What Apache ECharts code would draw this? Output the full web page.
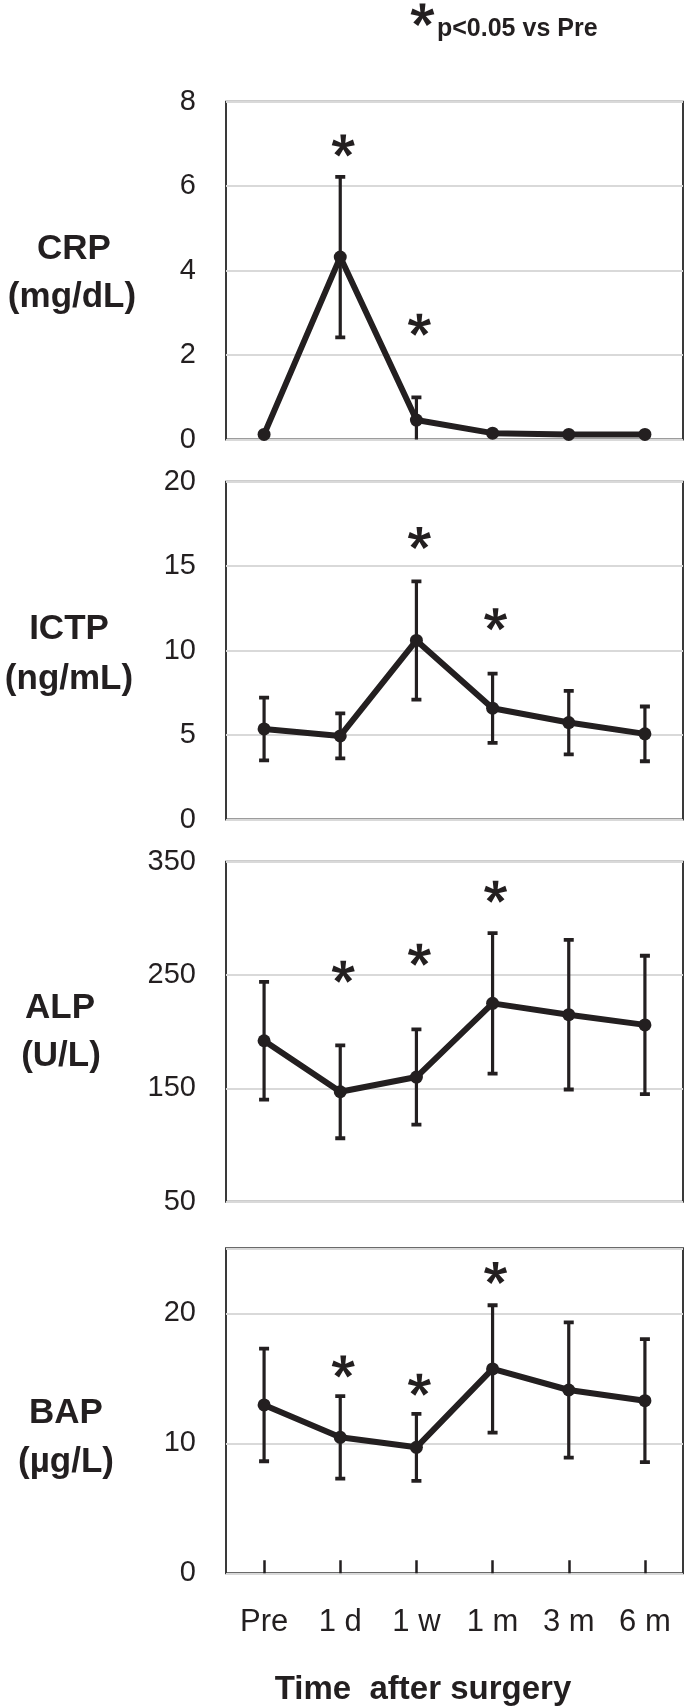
<!DOCTYPE html>
<html>
<head>
<meta charset="utf-8">
<script src="https://cdn.jsdelivr.net/npm/echarts@6/dist/echarts.min.js"></script>
<style>
html,body{margin:0;padding:0;background:#fff;}
#chart{width:685px;height:1708px;}
</style>
</head>
<body>
<div id="chart"></div>
<script>
// ---------- data ----------
const categories = ['Pre', '1 d', '1 w', '1 m', '3 m', '6 m'];

const crpMean = [0.12, 4.32, 0.46, 0.15, 0.12, 0.12];
const crpSD   = [null, 1.9, 0.54, null, null, null];
const crpStars = [['1 d', 6.96], ['1 w', 2.72]];

const ictpMean = [5.36, 4.95, 10.6, 6.59, 5.74, 5.07];
const ictpSD   = [1.86, 1.33, 3.5, 2.05, 1.88, 1.62];
const ictpStars = [['1 w', 16.66], ['1 m', 11.86]];

const alpMean = [192, 147, 160, 225, 215, 206];
const alpSD   = [52, 41, 42, 62, 66, 61];
const alpStars = [['1 d', 253], ['1 w', 268], ['1 m', 323.5]];

const bapMean = [12.95, 10.46, 9.69, 15.72, 14.1, 13.28];
const bapSD   = [4.33, 3.17, 2.58, 4.9, 5.2, 4.73];
const bapStars = [['1 d', 15.9], ['1 w', 14.5], ['1 m', 23.1]];

const crpTicks = [0, 2, 4, 6, 8];
const ictpTicks = [0, 5, 10, 15, 20];
const alpTicks = [50, 150, 250, 350];
const bapTicks = [0, 10, 20];

// ---------- style ----------
const INK = '#231f20';
const FONT = 'Liberation Sans, Arial, Helvetica, sans-serif';

function starArms(cx, cy, R, w0, w1) {
  const arms = [];
  for (let k = 0; k < 5; k++) {
    const a = (-90 + 72 * k) * Math.PI / 180;
    const dx = Math.cos(a), dy = Math.sin(a);
    const px = -dy, py = dx;
    const back = R * 0.15;
    const bx = cx - dx * back, by = cy - dy * back;
    const ex = cx + dx * R, ey = cy + dy * R;
    arms.push([
      [bx - px * w0, by - py * w0],
      [ex - px * w1, ey - py * w1],
      [ex + px * w1, ey + py * w1],
      [bx + px * w0, by + py * w0]
    ]);
  }
  return arms;
}
const STAR = 'path://' + starArms(50, 50, 50, 7, 13).map(pts =>
  'M' + pts.map(p => p[0].toFixed(2) + ' ' + p[1].toFixed(2)).join(' L') + ' Z').join(' ');

const grids = [
  { left: 226, right: 2, top: 101.7, height: 337.8 },
  { left: 226, right: 2, top: 481.7, height: 337.8 },
  { left: 226, right: 2, top: 861.7, height: 340 },
  { left: 226, right: 2, top: 1248.3, height: 325 }
].map(g => Object.assign(g, { show: true, borderColor: '#3a3a3a', borderWidth: 2, backgroundColor: 'transparent' }));

function xAxis(i, last) {
  return {
    type: 'category', gridIndex: i, data: categories, boundaryGap: true,
    axisLine: { show: false },
    axisTick: { show: last, inside: true, length: 13, alignWithLabel: true, lineStyle: { color: INK, width: 2.5 } },
    axisLabel: { show: last, fontSize: 31, color: INK, fontFamily: FONT, margin: 34 },
    splitLine: { show: false }
  };
}
function yAxis(i, min, max, interval, extra) {
  const ax = {
    type: 'value', gridIndex: i, min: min, max: max,
    axisLine: { show: false },
    axisTick: { show: false },
    axisLabel: { fontSize: 29, color: INK, fontFamily: FONT, margin: 30 },
    splitLine: { show: true, lineStyle: { color: '#d9d9d9', width: 2 } }
  };
  if (interval != null) ax.interval = interval;
  return Object.assign(ax, extra || {});
}

function errSeries(i, mean, sd) {
  return {
    type: 'custom', xAxisIndex: i, yAxisIndex: i, clip: true, z: 3,
    data: mean.map((m, k) => [k, m, sd[k] == null ? '-' : sd[k]]),
    renderItem: function (params, api) {
      const x = api.value(0), m = api.value(1), s = api.value(2);
      if (s == null || isNaN(s)) return null;
      const top = api.coord([x, m + s]);
      const bot = api.coord([x, m - s]);
      const hw = 5;
      return {
        type: 'group',
        children: [
          { type: 'line', shape: { x1: top[0], y1: top[1], x2: bot[0], y2: bot[1] }, style: { stroke: INK, lineWidth: 3.2 } },
          { type: 'line', shape: { x1: top[0] - hw, y1: top[1], x2: top[0] + hw, y2: top[1] }, style: { stroke: INK, lineWidth: 3.8 } },
          { type: 'line', shape: { x1: bot[0] - hw, y1: bot[1], x2: bot[0] + hw, y2: bot[1] }, style: { stroke: INK, lineWidth: 3.8 } }
        ]
      };
    }
  };
}
function lineSeries(i, mean) {
  return {
    type: 'line', xAxisIndex: i, yAxisIndex: i, data: mean, z: 4,
    symbol: 'circle', symbolSize: 13, showSymbol: true,
    lineStyle: { color: INK, width: 6 },
    itemStyle: { color: INK, opacity: 1 }
  };
}
function starSeries(i, stars) {
  return {
    type: 'scatter', xAxisIndex: i, yAxisIndex: i, data: stars, z: 5,
    symbol: STAR, symbolSize: [23, 22], symbolOffset: [3, 0],
    itemStyle: { color: INK, opacity: 1 }, clip: false
  };
}

function nameText(x, y, txt) {
  return {
    type: 'text', x: x, y: y,
    style: { text: txt, fill: INK, font: 'bold 35px ' + FONT, align: 'center', verticalAlign: 'middle' }
  };
}

const legendStar = {
  type: 'group', x: 0, y: 0,
  children: starArms(422.5, 15, 11.5, 1.6, 3.0).map(pts => ({
    type: 'polygon', shape: { points: pts }, style: { fill: INK }
  }))
};

const option = {
  animation: false,
  backgroundColor: '#ffffff',
  grid: grids,
  xAxis: [xAxis(0, false), xAxis(1, false), xAxis(2, false), xAxis(3, true)],
  yAxis: [
    yAxis(0, crpTicks[0], crpTicks[crpTicks.length - 1], 2),
    yAxis(1, ictpTicks[0], ictpTicks[ictpTicks.length - 1], 5),
    yAxis(2, alpTicks[0], alpTicks[alpTicks.length - 1], null, {
      axisLabel: { fontSize: 29, color: INK, fontFamily: FONT, margin: 30, customValues: alpTicks },
      axisTick: { show: false, customValues: alpTicks }
    }),
    yAxis(3, bapTicks[0], 25, 10, {
      axisLabel: { fontSize: 29, color: INK, fontFamily: FONT, margin: 30, showMaxLabel: false }
    })
  ],
  series: [
    errSeries(0, crpMean, crpSD), lineSeries(0, crpMean), starSeries(0, crpStars),
    errSeries(1, ictpMean, ictpSD), lineSeries(1, ictpMean), starSeries(1, ictpStars),
    errSeries(2, alpMean, alpSD), lineSeries(2, alpMean), starSeries(2, alpStars),
    errSeries(3, bapMean, bapSD), lineSeries(3, bapMean), starSeries(3, bapStars)
  ],
  graphic: [
    nameText(74, 249, 'CRP'), nameText(72, 297, '(mg/dL)'),
    nameText(69, 629, 'ICTP'), nameText(69, 679, '(ng/mL)'),
    nameText(60, 1008, 'ALP'), nameText(61, 1056, '(U/L)'),
    nameText(66, 1413, 'BAP'), nameText(66, 1462, '(µg/L)'),
    legendStar,
    {
      type: 'text', x: 437, y: 29,
      style: { text: 'p<0.05 vs Pre', fill: INK, font: 'bold 25px ' + FONT, align: 'left', verticalAlign: 'middle' }
    },
    {
      type: 'text', x: 423, y: 1690,
      style: { text: 'Time  after surgery', fill: INK, font: 'bold 33px ' + FONT, align: 'center', verticalAlign: 'middle' }
    }
  ]
};

const chart = echarts.init(document.getElementById('chart'), null, { renderer: 'canvas' });
chart.setOption(option);
</script>
</body>
</html>
